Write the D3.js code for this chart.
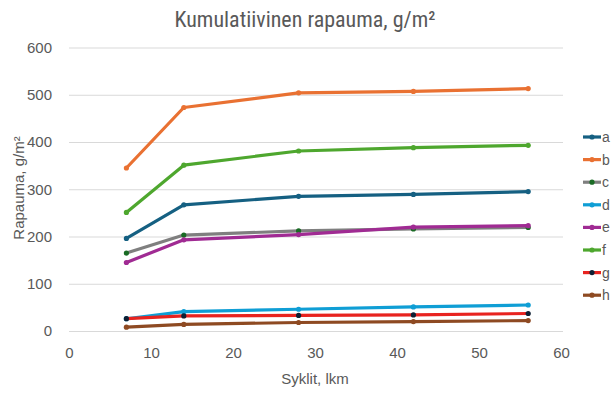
<!DOCTYPE html>
<html>
<head>
<meta charset="utf-8">
<script src="https://cdn.jsdelivr.net/npm/d3@7"></script>
<style>
  body { margin: 0; background: #fff; }
  svg { display: block; }
</style>
</head>
<body>
<div id="chart"></div>
<script>
// data
var cycles = [7, 14, 28, 42, 56];
var seriesNames = ["a", "b", "c", "d", "e", "f", "g", "h"];
var valuesA = [196, 267, 285, 289, 295];
var valuesB = [345, 473, 504, 507, 513];
var valuesC = [165, 203, 212, 216, 219];
var valuesD = [26, 41, 46, 51, 55];
var valuesE = [145, 193, 204, 220, 223];
var valuesF = [251, 351, 381, 388, 393];
var valuesG = [26, 32, 33, 34, 37];
var valuesH = [8, 14, 18, 20, 22];
var yTicks = [0, 100, 200, 300, 400, 500, 600];
var xTicks = [0, 10, 20, 30, 40, 50, 60];

var param = {
    width : 615,
    height : 398,
    left : 69,
    right : 561,
    top : 47.5,
    bottom : 331
};

var lineColors = ["#156082", "#e97132", "#7f7f7f", "#0f9ed5", "#a02b93", "#4ea72e", "#e8231f", "#8e4a22"];
var markerColors = ["#156082", "#e97132", "#196b24", "#0f9ed5", "#a02b93", "#4ea72e", "#0e1f33", "#8e4a22"];

var allValues = [valuesA, valuesB, valuesC, valuesD, valuesE, valuesF, valuesG, valuesH];
var series = seriesNames.map(function(n, i) {
    return {name : n, values : allValues[i].map(function(v, j) { return {x : cycles[j], y : v}; }), i : i};
});

var x = d3.scaleLinear().domain([0, 60]).range([param.left, param.right]);
var y = d3.scaleLinear().domain([0, 600]).range([param.bottom, param.top]);

var svg = d3.select("#chart").append("svg")
            .attr("width", param.width)
            .attr("height", param.height)
            .style("font-family", "'Liberation Sans', Arial, sans-serif");

// gridlines
svg.append("g")
   .attr("transform", "translate(" + param.left + ",0)")
   .call(d3.axisLeft(y).tickValues(yTicks).tickSize(-(param.right - param.left + 2)).tickFormat(""))
   .call(function(g) {
       g.select(".domain").remove();
       g.selectAll("line").attr("stroke", "#d9d9d9").attr("stroke-width", 1);
   });

// y tick labels
svg.append("g")
   .attr("transform", "translate(" + param.left + ",0)")
   .call(d3.axisLeft(y).tickValues(yTicks).tickSize(0).tickPadding(17))
   .call(function(g) {
       g.select(".domain").remove();
       g.selectAll("text").attr("fill", "#595959").style("font-size", "15px")
        .style("font-family", "'Liberation Sans', Arial, sans-serif");
   });

// x tick labels
svg.append("g")
   .attr("transform", "translate(0," + param.bottom + ")")
   .call(d3.axisBottom(x).tickValues(xTicks).tickSize(0).tickPadding(16))
   .call(function(g) {
       g.select(".domain").remove();
       g.selectAll("text").attr("fill", "#595959").style("font-size", "15px")
        .style("font-family", "'Liberation Sans', Arial, sans-serif");
   });

// titles
svg.append("text")
   .attr("x", 305)
   .attr("y", 27)
   .attr("text-anchor", "middle")
   .attr("fill", "#595959")
   .style("font-family", "'Liberation Sans Narrow', 'Roboto Condensed', 'Liberation Sans', sans-serif")
   .style("font-size", "22px")
   .text("Kumulatiivinen rapauma, g/m²");

svg.append("text")
   .attr("x", 315)
   .attr("y", 384)
   .attr("text-anchor", "middle")
   .attr("fill", "#595959")
   .style("font-size", "15px")
   .text("Syklit, lkm");

svg.append("text")
   .attr("transform", "translate(24,188) rotate(-90)")
   .attr("text-anchor", "middle")
   .attr("fill", "#595959")
   .style("font-size", "15px")
   .text("Rapauma, g/m²");

// lines
var line = d3.line()
             .x(function(d) { return x(d.x); })
             .y(function(d) { return y(d.y); });

var groups = svg.selectAll(".series")
                .data(series)
                .enter()
                .append("g")
                .attr("class", "series");

groups.append("path")
      .attr("d", function(d) { return line(d.values); })
      .attr("fill", "none")
      .attr("stroke", function(d) { return lineColors[d.i]; })
      .attr("stroke-width", 3.2)
      .attr("stroke-linejoin", "round")
      .attr("stroke-linecap", "round");

groups.selectAll("circle")
      .data(function(d) { return d.values.map(function(v) { return {x : v.x, y : v.y, i : d.i}; }); })
      .enter()
      .append("circle")
      .attr("cx", function(d) { return x(d.x); })
      .attr("cy", function(d) { return y(d.y); })
      .attr("r", 2.6)
      .attr("fill", function(d) { return markerColors[d.i]; });

// legend
var legend = svg.selectAll(".legend")
                .data(series)
                .enter()
                .append("g")
                .attr("class", "legend")
                .attr("transform", function(d, i) { return "translate(583," + (137 + i * 22.6) + ")"; });

legend.append("line")
      .attr("x1", 0)
      .attr("x2", 18)
      .attr("stroke", function(d) { return lineColors[d.i]; })
      .attr("stroke-width", 3.2);

legend.append("circle")
      .attr("cx", 9)
      .attr("r", 2.6)
      .attr("fill", function(d) { return markerColors[d.i]; });

legend.append("text")
      .attr("x", 19)
      .attr("y", 5)
      .attr("fill", "#595959")
      .style("font-size", "14px")
      .text(function(d) { return d.name; });
</script>
</body>
</html>
